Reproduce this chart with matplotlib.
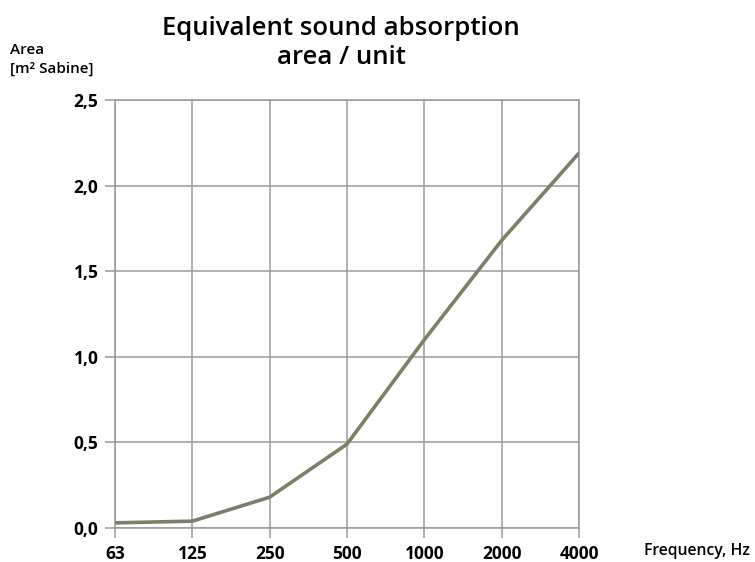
import matplotlib.pyplot as plt
import numpy as np

plt.rcParams['font.family'] = ['Open Sans', 'DejaVu Sans']

frequencies = ['63', '125', '250', '500', '1000', '2000', '4000']
area = [0.03, 0.04, 0.18, 0.49, 1.10, 1.68, 2.19]
y_ticks = [0.0, 0.5, 1.0, 1.5, 2.0, 2.5]
y_labels = ['0,0', '0,5', '1,0', '1,5', '2,0', '2,5']

fig = plt.figure(figsize=(7.55, 5.62), dpi=100)
ax = fig.add_axes([0.1523, 0.0605, 0.6146, 0.7616])

x = np.arange(len(frequencies))
ax.plot(x, area, color='#7a8068', linewidth=2.6, solid_capstyle='butt', zorder=3)

ax.set_xlim(0, len(frequencies) - 1)
ax.set_ylim(0, 2.5)
ax.set_xticks(x)
ax.set_xticklabels(frequencies, fontsize=12.5, fontweight='bold')
ax.set_yticks(y_ticks)
ax.set_yticklabels(y_labels, fontsize=12.5, fontweight='bold')

grid_col = '#9a9a9a'
ax.grid(True, color=grid_col, linewidth=1.1)
for s in ax.spines.values():
    s.set_color(grid_col)
    s.set_linewidth(1.1)
ax.tick_params(direction='out', length=7, width=1.1, color=grid_col, pad=5)

fig.text(0.452, 0.972, 'Equivalent sound absorption\narea / unit', ha='center', va='top',
         fontsize=18.5, fontweight='semibold', linespacing=1.2)
fig.text(0.013, 0.924, 'Area\n[m² Sabine]', ha='left', va='top', fontsize=11,
         fontweight='semibold', linespacing=1.45)
fig.text(0.853, 0.02, 'Frequency, Hz', ha='left', va='center', fontsize=11.3,
         fontweight='semibold')

fig.savefig('out.png', dpi=100)
